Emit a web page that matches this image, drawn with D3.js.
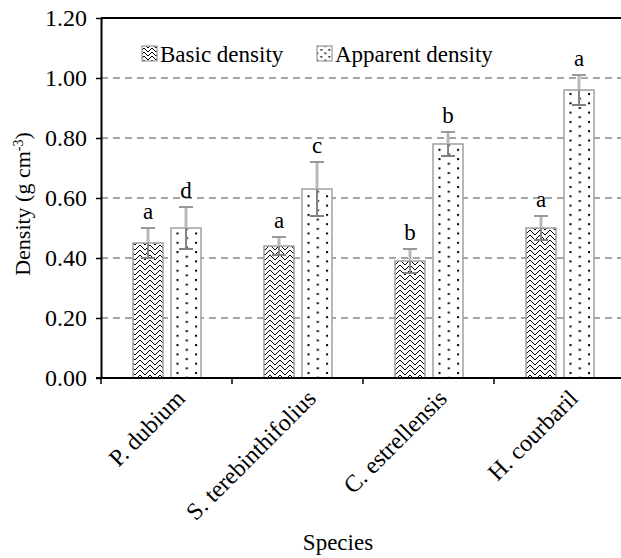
<!DOCTYPE html>
<html>
<head>
<meta charset="utf-8">
<script src="https://cdn.jsdelivr.net/npm/d3@7"></script>
<style>
  html, body { margin: 0; padding: 0; background: #fff; }
  svg { display: block; font-family: "Liberation Serif", "Times New Roman", serif; }
</style>
</head>
<body>
<svg id="chart" width="621" height="558"></svg>
<script>
const categories = ["P. dubium", "S. terebinthifolius", "C. estrellensis", "H. courbaril"];
const seriesNames = ["Basic density", "Apparent density"];
const basic = [0.45, 0.44, 0.39, 0.50];
const basicErr = [0.05, 0.03, 0.04, 0.04];
const apparent = [0.50, 0.63, 0.78, 0.96];
const apparentErr = [0.07, 0.09, 0.04, 0.05];
const basicLetters = ["a", "a", "b", "a"];
const apparentLetters = ["d", "c", "b", "a"];
const yTicks = [0, 0.2, 0.4, 0.6, 0.8, 1.0, 1.2];

const svg = d3.select("#chart");
const width = 621, height = 558;
const plotLeft = 101, plotTop = 18, plotBottom = 378, plotRight = 625;

const y = d3.scaleLinear().domain([0, 1.2]).range([plotBottom, plotTop]);
const x0 = d3.scaleBand().domain(categories).range([plotLeft, plotRight]).padding(0);
const x1 = d3.scaleBand().domain(["basic", "apparent"]).range([32, 100]).paddingInner(0.2105);

const defs = svg.append("defs");

// zigzag (chevron) pattern for basic density, built from small squares
function zigzag(id, size, px) {
  const p = defs.append("pattern")
    .attr("id", id)
    .attr("patternUnits", "userSpaceOnUse")
    .attr("width", size * px).attr("height", size * px);
  p.append("rect").attr("width", size * px).attr("height", size * px).attr("fill", "#fff");
  const half = size / 2;
  const cells = [];
  [0, half].forEach(off => {
    for (let k = 0; k < half; k++) {
      cells.push([k, (k + off) % size]);
      cells.push([size - 1 - k, (k + off) % size]);
    }
  });
  p.selectAll("rect.c")
    .data(cells)
    .join("rect")
    .attr("class", "c")
    .attr("x", d => d[0] * px).attr("y", d => d[1] * px)
    .attr("width", px).attr("height", px)
    .attr("fill", "#000")
    .attr("shape-rendering", "crispEdges");
}
zigzag("zig", 10, 1);
zigzag("zigSmall", 8, 1);

// dot pattern for apparent density, one per bar so the dots line up with the bar edge
function dots(id, ox, w, h, r) {
  const p = defs.append("pattern")
    .attr("id", id)
    .attr("patternUnits", "userSpaceOnUse")
    .attr("x", ox).attr("y", 0)
    .attr("width", w).attr("height", h);
  p.append("rect").attr("width", w).attr("height", h).attr("fill", "#fff");
  p.append("rect").attr("x", 0).attr("y", 0).attr("width", r).attr("height", r).attr("fill", "#000");
  p.append("rect").attr("x", w / 2).attr("y", h / 2).attr("width", r).attr("height", r).attr("fill", "#000");
}

// gridlines
svg.append("g")
  .selectAll("line")
  .data(yTicks.filter(t => t > 0 && t < 1.2))
  .join("line")
  .attr("x1", plotLeft).attr("x2", width)
  .attr("y1", d => y(d)).attr("y2", d => y(d))
  .attr("stroke", "#a6a6a6")
  .attr("stroke-width", 1.8)
  .attr("stroke-dasharray", "7,5");

// bars
const series = [
  { key: "basic", values: basic, err: basicErr, letters: basicLetters },
  { key: "apparent", values: apparent, err: apparentErr, letters: apparentLetters }
];

series.forEach(s => {
  categories.forEach((c, i) => {
    const bx = x0(c) + x1(s.key);
    const bw = x1.bandwidth();
    const v = s.values[i];
    let fill = "url(#zig)";
    if (s.key === "apparent") {
      dots("dot" + i, bx + 5.5, 18.6, 9.3, 2);
      fill = `url(#dot${i})`;
    }
    svg.append("rect")
      .attr("x", bx).attr("y", y(v))
      .attr("width", bw).attr("height", y(0) - y(v))
      .attr("fill", fill)
      .attr("stroke", "#a0a0a0")
      .attr("stroke-width", 1.5);
  });
});

// error bars and letters
series.forEach(s => {
  categories.forEach((c, i) => {
    const cx = x0(c) + x1(s.key) + x1.bandwidth() / 2;
    const v = s.values[i], e = s.err[i];
    const g = svg.append("g");
    g.append("line")
      .attr("x1", cx).attr("x2", cx)
      .attr("y1", y(v)).attr("y2", y(v + e))
      .attr("stroke", "#b8b8b8").attr("stroke-width", 3);
    g.append("line")
      .attr("x1", cx).attr("x2", cx)
      .attr("y1", y(v)).attr("y2", y(v - e))
      .attr("stroke", "#858585").attr("stroke-width", 2);
    g.append("line")
      .attr("x1", cx - 7).attr("x2", cx + 7)
      .attr("y1", y(v + e)).attr("y2", y(v + e))
      .attr("stroke", "#999").attr("stroke-width", 2);
    g.append("line")
      .attr("x1", cx - 7).attr("x2", cx + 7)
      .attr("y1", y(v - e)).attr("y2", y(v - e))
      .attr("stroke", "#808080").attr("stroke-width", 2);
    svg.append("text")
      .attr("x", cx).attr("y", y(v + e) - 9)
      .attr("text-anchor", "middle")
      .style("font-size", "23px")
      .text(s.letters[i]);
  });
});

// top border
svg.append("line")
  .attr("x1", plotLeft).attr("x2", width)
  .attr("y1", plotTop).attr("y2", plotTop)
  .attr("stroke", "#000").attr("stroke-width", 2);

// y axis
const yAxis = svg.append("g")
  .attr("transform", `translate(${plotLeft},0)`)
  .call(d3.axisLeft(y).tickValues(yTicks).tickFormat(d3.format(".2f")).tickSize(5).tickSizeOuter(0).tickPadding(9));
yAxis.select(".domain").attr("stroke", "#000").attr("stroke-width", 2);
yAxis.selectAll(".tick line").attr("stroke", "#000").attr("stroke-width", 1.5);
yAxis.selectAll(".tick text")
  .attr("fill", "#000")
  .style("font-family", "Liberation Serif, serif")
  .style("font-size", "24px");

// x axis
svg.append("line")
  .attr("x1", plotLeft - 5).attr("x2", width)
  .attr("y1", plotBottom).attr("y2", plotBottom)
  .attr("stroke", "#000").attr("stroke-width", 2);
svg.append("g")
  .selectAll("line")
  .data(categories)
  .join("line")
  .attr("x1", d => x0(d)).attr("x2", d => x0(d))
  .attr("y1", plotBottom).attr("y2", plotBottom + 6)
  .attr("stroke", "#000").attr("stroke-width", 1.5);

svg.append("g")
  .selectAll("text")
  .data(categories)
  .join("text")
  .attr("transform", d => `translate(${x0(d) + x0.bandwidth() / 2 + 8},${plotBottom + 10}) rotate(-45)`)
  .attr("text-anchor", "end")
  .attr("dy", "0.7em")
  .style("font-size", "24px")
  .text(d => d);

// axis titles
svg.append("text")
  .attr("x", 338).attr("y", 550)
  .attr("text-anchor", "middle")
  .style("font-size", "23px")
  .text("Species");

const yl = svg.append("text")
  .attr("transform", "translate(30,204) rotate(-90)")
  .attr("text-anchor", "middle")
  .style("font-size", "22px");
yl.append("tspan").text("Density (g cm");
yl.append("tspan").attr("baseline-shift", "super").style("font-size", "14px").text("-3");
yl.append("tspan").text(")");

// legend
const legendX = [142, 317];
seriesNames.forEach((name, i) => {
  const sw = svg.append("rect")
    .attr("x", legendX[i]).attr("y", 46)
    .attr("width", 15).attr("height", 15)
    .attr("stroke", "#999").attr("stroke-width", 1.2);
  if (i === 0) {
    sw.attr("fill", "url(#zigSmall)");
  } else {
    dots("legDot", legendX[i] + 3.5, 8, 7, 1.6);
    sw.attr("fill", "url(#legDot)");
  }
  svg.append("text")
    .attr("x", legendX[i] + 18).attr("y", 62)
    .style("font-size", "23px")
    .text(name);
});
</script>
</body>
</html>
